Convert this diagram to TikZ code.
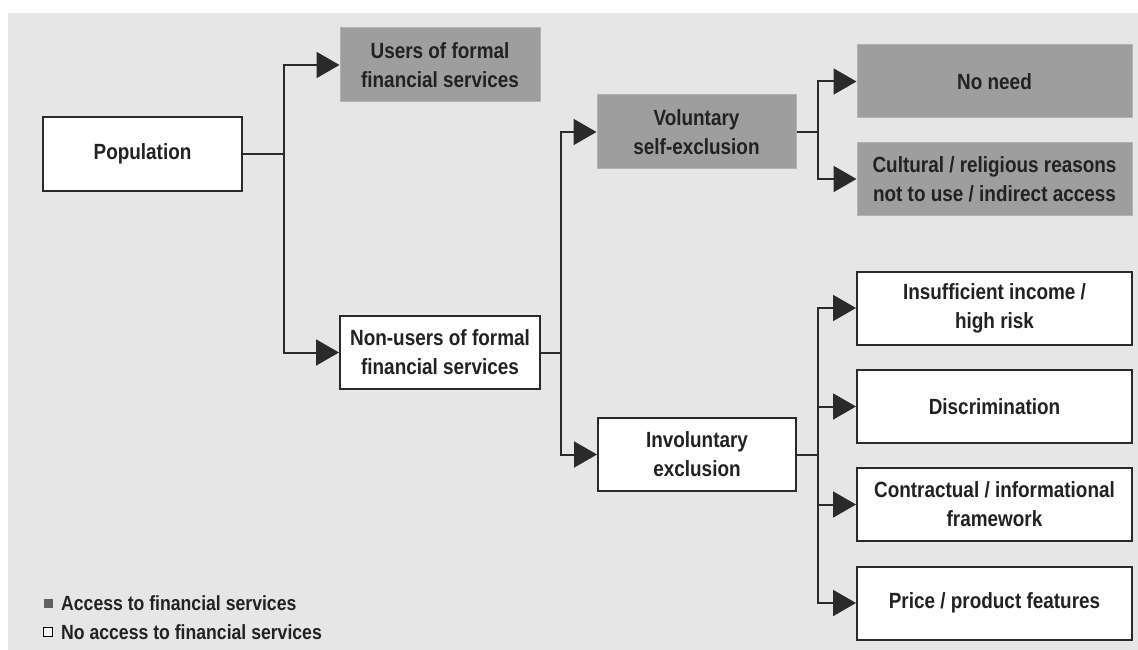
\documentclass[tikz,border=0pt]{standalone}
\usepackage{fontspec}
\setmainfont{Liberation Sans}[FakeStretch=0.86]
\usetikzlibrary{arrows.meta}
\definecolor{bg}{HTML}{E6E6E6}
\definecolor{gbox}{HTML}{9E9E9E}
\definecolor{gedge}{HTML}{B2B2B2}
\definecolor{ink}{HTML}{222222}
\definecolor{edge}{HTML}{2A2A2A}
\begin{document}
\begin{tikzpicture}[x=1pt,y=-1pt,
  txt/.style={font=\fontsize{22}{29}\selectfont\bfseries, text=ink, align=center, inner sep=0pt},
  wbox/.style={txt, draw=edge, line width=2pt, fill=white, minimum width=200pt, minimum height=73pt},
  gboxst/.style={txt, draw=gedge, line width=1pt, fill=gbox, minimum width=200pt, minimum height=73pt},
  wide/.style={minimum width=275pt},
  conn/.style={draw=edge, line width=2pt},
  arr/.style={conn, -{Triangle[length=23pt,width=26pt]}, shorten >=0pt},
  legtxt/.style={font=\fontsize{20.5}{24}\selectfont\bfseries, text=ink, anchor=west, inner sep=0pt}
]
\useasboundingbox (0,0) rectangle (1138,650);
\fill[white] (0,0) rectangle (1138,650);
\fill[bg] (8,13) rectangle (1138,650);

% nodes
\node[wbox, minimum width=199pt, minimum height=74pt] (pop) at (142.5,154) {Population};
\node[gboxst, minimum height=74pt] (users) at (440,65) {Users of formal\\financial services};
\node[wbox] (nonusers) at (440,352.5) {Non-users of formal\\financial services};
\node[gboxst, minimum width=199pt, minimum height=74pt] (vol) at (696.5,132) {Voluntary\\self-exclusion};
\node[wbox, minimum width=198pt] (invol) at (697,454.5) {Involuntary\\exclusion};
\node[gboxst, wide] (noneed) at (994.5,81.5) {No need};
\node[gboxst, wide, minimum height=72pt] (cult) at (994.5,179) {Cultural / religious reasons\\not to use / indirect access};
\node[wbox, wide] (insuf) at (994.5,308) {Insufficient income /\\high risk};
\node[wbox, wide] (discr) at (994.5,406.5) {Discrimination};
\node[wbox, wide] (contr) at (994.5,504.5) {Contractual / informational\\framework};
\node[wbox, wide] (price) at (994.5,603) {Price / product features};

% junctions
\coordinate (j1) at (284,154);
\coordinate (j2) at (561,352.5);
\coordinate (j3) at (818,132);
\coordinate (j4) at (818,454.5);

% connectors
\draw[conn] (pop.east) -- (j1);
\draw[arr] (j1) |- (users.west);
\draw[arr] (j1) |- (nonusers.west);
\draw[conn] (nonusers.east) -- (j2);
\draw[arr] (j2) |- (vol.west);
\draw[arr] (j2) |- (invol.west);
\draw[conn] (vol.east) -- (j3);
\draw[arr] (j3) |- (noneed.west);
\draw[arr] (j3) |- (cult.west);
\draw[conn] (invol.east) -- (j4);
\draw[arr] (j4) |- (insuf.west);
\draw[arr] (j4) |- (discr.west);
\draw[arr] (j4) |- (contr.west);
\draw[arr] (j4) |- (price.west);

% legend
\node[fill=gray!75!black, minimum size=9pt, inner sep=0pt] (sq1) at (48,603) {};
\node[draw=black, line width=1pt, fill=white, minimum size=9pt, inner sep=0pt] (sq2) at (48,632) {};
\node[legtxt] (l1) at (61,603) {Access to financial services};
\node[legtxt] (l2) at (61,632) {No access to financial services};
\end{tikzpicture}
\end{document}
